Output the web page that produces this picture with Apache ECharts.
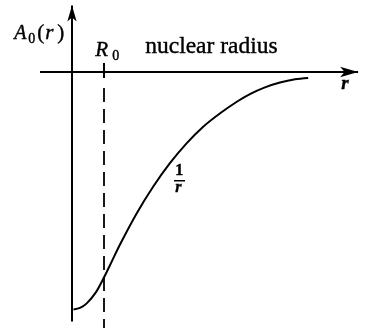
<!DOCTYPE html>
<html>
<head>
<meta charset="utf-8">
<script src="https://cdn.jsdelivr.net/npm/echarts@6/dist/echarts.min.js"></script>
<style>
  html, body { margin: 0; padding: 0; background: #fff; }
  #chart { width: 377px; height: 328px; }
</style>
</head>
<body>
<div id="chart"></div>
<script>
// curve A0(r), r in units of R0 (R0 = 1)
var curveR = [0.047, 0.25, 0.46, 0.75, 1.01, 1.19, 1.5, 2.02, 2.54, 3.06, 3.58, 4.1, 4.63, 5.15, 5.56, 6.03, 6.5, 6.97, 7.38];
var curveA = [-7.42, -7.37, -7.23, -6.88, -6.4, -6.03, -5.39, -4.42, -3.58, -2.85, -2.23, -1.71, -1.29, -0.93, -0.69, -0.48, -0.33, -0.23, -0.19];
var R0 = 1;
var rAxisRange = [-1.0, 8.94];
var aAxisRange = [-7.8, 2.08];
var dashRange = [-0.5, -8.0];
var tickRange = [0.28, -0.19];

var chart = echarts.init(document.getElementById('chart'), null, { renderer: 'canvas' });
var curveData = curveR.map(function (r, i) { return [r, curveA[i]]; });

var serif = '"Liberation Serif", "DejaVu Serif", serif';
var black = '#000';
// printed look: thin outline on the glyphs
function txt(s, font) {
  return { text: s, font: font, fill: black, stroke: black, lineWidth: 0.4 };
}

chart.setOption({
  animation: false,
  backgroundColor: '#fff',
  grid: { left: 0, right: 0, top: 0, bottom: 0 },
  xAxis: { type: 'value', min: -2.25, max: 9.53125, show: false },
  yAxis: { type: 'value', min: -8.0, max: 2.25, show: false },
  series: [{
    type: 'line',
    data: curveData,
    smooth: 0.3,
    symbol: 'none',
    silent: true,
    lineStyle: { color: black, width: 2 },
    markLine: {
      silent: true,
      label: { show: false },
      symbol: ['none', 'none'],
      lineStyle: { color: black, width: 2, type: 'solid' },
      data: [
        [{ coord: [rAxisRange[0], 0], symbol: 'none' },
         { coord: [rAxisRange[1], 0], symbol: 'arrow', symbolSize: [8, 18] }],
        [{ coord: [0, aAxisRange[0]], symbol: 'none' },
         { coord: [0, aAxisRange[1]], symbol: 'arrow', symbolSize: [7, 16] }],
        [{ coord: [R0, tickRange[0]] }, { coord: [R0, tickRange[1]] }],
        [{ coord: [R0, dashRange[0]], lineStyle: { type: [14, 7], width: 1.8 } },
         { coord: [R0, dashRange[1]] }]
      ]
    }
  }],
  graphic: [
    { type: 'text', left: 14, top: 24, style: txt('A', 'italic 20px ' + serif) },
    { type: 'text', left: 28, top: 32, style: txt('0', '14px ' + serif) },
    { type: 'text', left: 37, top: 23, style: txt('(', '21px ' + serif) },
    { type: 'text', left: 45, top: 23, style: txt('r', 'italic 21px ' + serif) },
    { type: 'text', left: 57, top: 23, style: txt(')', '21px ' + serif) },
    { type: 'text', left: 95, top: 40, style: txt('R', 'italic 21px ' + serif) },
    { type: 'text', left: 112, top: 49, style: txt('0', '14px ' + serif) },
    { type: 'text', left: 145, top: 35, style: txt('nuclear radius', '23.5px ' + serif) },
    { type: 'text', left: 341, top: 74, style: txt('r', 'italic bold 19px ' + serif) },
    { type: 'text', left: 175, top: 163, style: txt('1', 'bold 16px ' + serif) },
    { type: 'rect', shape: { x: 174, y: 180, width: 11, height: 1.5 }, style: { fill: black } },
    { type: 'text', left: 175, top: 180, style: txt('r', 'italic bold 16px ' + serif) }
  ]
});
</script>
</body>
</html>
